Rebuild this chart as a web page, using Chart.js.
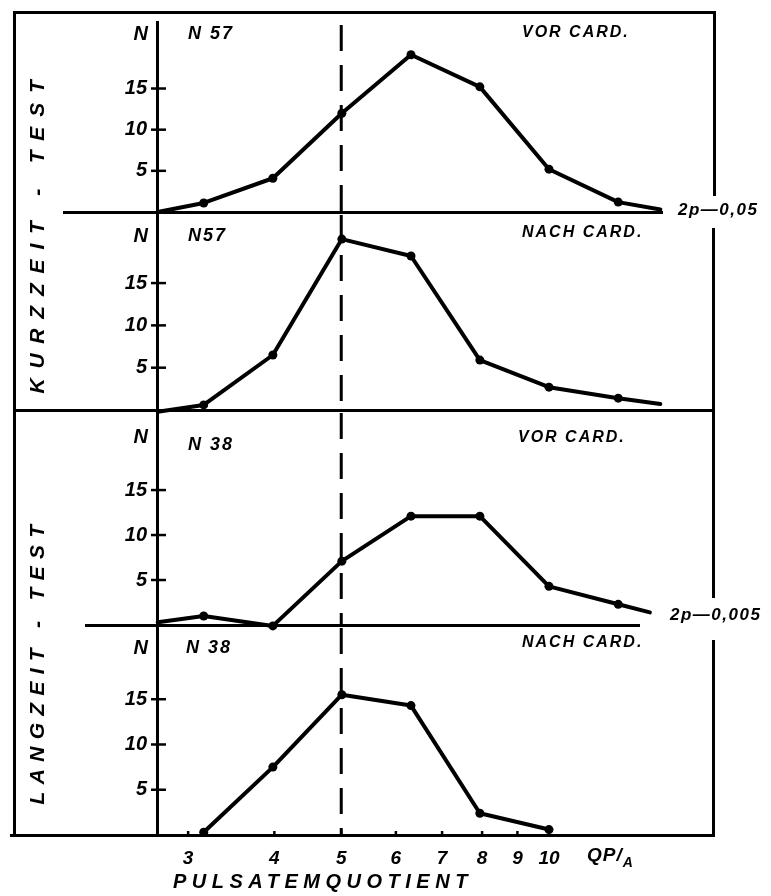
<!DOCTYPE html>
<html>
<head>
<meta charset="utf-8">
<script src="https://cdn.jsdelivr.net/npm/chart.js@4.4.1/dist/chart.umd.min.js"></script>
<style>
html,body{margin:0;padding:0;background:#fff;}
#wrap{position:relative;width:771px;height:896px;overflow:hidden;background:#fff;}
canvas{position:absolute;left:0;top:0;}
.ln{position:absolute;background:#000;}
.t{position:absolute;font-family:'Liberation Sans',Arial,sans-serif;font-weight:bold;font-style:italic;color:#000;white-space:nowrap;line-height:1;transform:translate(0,-50%);}
.r{transform:translate(-100%,-50%);}
.rot{transform:translate(-50%,-50%) rotate(-90deg);}
sub{font-size:14px;vertical-align:-6px;}
</style>
</head>
<body>
<div id="wrap">
  <!-- frame and panel separators -->
  <div class="ln" style="left:13px;top:11px;width:3px;height:826px"></div>
  <div class="ln" style="left:13px;top:11px;width:703px;height:3px"></div>
  <div class="ln" style="left:713px;top:11px;width:3px;height:185px"></div>
  <div class="ln" style="left:712px;top:228px;width:3px;height:183px"></div>
  <div class="ln" style="left:712px;top:410px;width:3px;height:188px"></div>
  <div class="ln" style="left:712px;top:640px;width:3px;height:196px"></div>
  <div class="ln" style="left:63px;top:211px;width:600px;height:3px"></div>
  <div class="ln" style="left:13px;top:409px;width:702px;height:3px"></div>
  <div class="ln" style="left:85px;top:624px;width:555px;height:3px"></div>
  <div class="ln" style="left:10px;top:834px;width:705px;height:3px"></div>

  <canvas id="c1" width="771" height="896"></canvas>
  <canvas id="c2" width="771" height="896"></canvas>
  <canvas id="c3" width="771" height="896"></canvas>
  <canvas id="c4" width="771" height="896"></canvas>

  <!-- texts -->
  <div class="t r" style="left:148px;top:33px;font-size:20px">N</div>
  <div class="t r" style="left:148px;top:235px;font-size:20px">N</div>
  <div class="t r" style="left:148px;top:436px;font-size:20px">N</div>
  <div class="t r" style="left:148px;top:647px;font-size:20px">N</div>

  <div class="t" style="left:188px;top:33px;font-size:18px;letter-spacing:2px">N 57</div>
  <div class="t" style="left:188px;top:235px;font-size:18px;letter-spacing:2px">N57</div>
  <div class="t" style="left:188px;top:444px;font-size:18px;letter-spacing:2px">N 38</div>
  <div class="t" style="left:186px;top:647px;font-size:18px;letter-spacing:2px">N 38</div>

  <div class="t" style="left:522px;top:32px;font-size:16px;letter-spacing:2px">VOR CARD.</div>
  <div class="t" style="left:522px;top:232px;font-size:16px;letter-spacing:2px">NACH CARD.</div>
  <div class="t" style="left:518px;top:437px;font-size:16px;letter-spacing:2px">VOR CARD.</div>
  <div class="t" style="left:522px;top:642px;font-size:16px;letter-spacing:2px">NACH CARD.</div>

  <div class="t" style="left:678px;top:209px;font-size:17px;letter-spacing:1.5px">2p—0,05</div>
  <div class="t" style="left:670px;top:614px;font-size:17px;letter-spacing:1.5px">2p—0,005</div>

  <div class="t" style="left:587px;top:857px;font-size:19px;letter-spacing:1px">QP/<sub>A</sub></div>
  <div class="t" style="left:173px;top:881px;font-size:20px;letter-spacing:5.5px">PULSATEMQUOTIENT</div>

  <div class="t rot" style="left:36px;top:232px;font-size:21px;letter-spacing:9.8px">KURZZEIT - TEST</div>
  <div class="t rot" style="left:36px;top:661px;font-size:21px;letter-spacing:7.3px">LANGZEIT - TEST</div>
</div>

<script>
// ---- data ----
const xTicks = [3, 4, 5, 6, 7, 8, 9, 10];
const yTicks = [5, 10, 15];
const dashX = 5;

// Kurzzeit-Test, vor Cardiakum (N 57)
const kurzVorX = [2.71, 3.16, 3.98, 5.01, 6.31, 7.94, 10.0, 12.6, 14.5];
const kurzVorN = [0, 1.1, 4.1, 12.0, 19.1, 15.2, 5.2, 1.2, 0.3];
// Kurzzeit-Test, nach Cardiakum (N 57)
const kurzNachX = [2.71, 3.16, 3.98, 5.01, 6.31, 7.94, 10.0, 12.6, 14.5];
const kurzNachN = [-0.2, 0.6, 6.5, 20.2, 18.2, 5.9, 2.7, 1.4, 0.7];
// Langzeit-Test, vor Cardiakum (N 38)
const langVorX = [2.71, 3.16, 3.98, 5.01, 6.31, 7.94, 10.0, 12.6, 14.0];
const langVorN = [0.3, 1.0, -0.1, 7.1, 12.1, 12.1, 4.3, 2.3, 1.4];
// Langzeit-Test, nach Cardiakum (N 38)
const langNachX = [3.16, 3.98, 5.01, 6.31, 7.94, 10.0];
const langNachN = [0.3, 7.5, 15.5, 14.3, 2.4, 0.6];

// ---- drawing ----
const FONT = "'Liberation Sans', Arial, sans-serif";
const X_MIN = 2.704, X_MAX = 17.4;
const H = 896;

const marks = {
  id: 'marks',
  beforeDatasetsDraw(chart) {
    const {ctx, chartArea, scales} = chart;
    ctx.save();
    ctx.strokeStyle = '#000';
    // dashed reference line at QP/A = 5
    const xd = scales.x.getPixelForValue(dashX);
    ctx.lineWidth = 3;
    ctx.setLineDash([26, 14]);
    ctx.beginPath();
    ctx.moveTo(xd, chartArea.top + 3);
    ctx.lineTo(xd, chartArea.bottom);
    ctx.stroke();
    ctx.setLineDash([]);
    // y tick marks crossing the axis
    ctx.lineWidth = 2.5;
    scales.y.ticks.forEach(t => {
      const py = scales.y.getPixelForValue(t.value);
      ctx.beginPath();
      ctx.moveTo(chartArea.left - 6, py);
      ctx.lineTo(chartArea.left + 9, py);
      ctx.stroke();
    });
    // x tick marks on the bottom axis
    if (chart.options.scales.x.display) {
      scales.x.ticks.forEach(t => {
        const px = scales.x.getPixelForValue(t.value);
        ctx.beginPath();
        ctx.moveTo(px, chartArea.bottom - 4);
        ctx.lineTo(px, chartArea.bottom);
        ctx.stroke();
      });
    }
    ctx.restore();
  }
};

function panel(id, xs, ys, yMax, top, bottom, showX, plainEnds) {
  const n = xs.length;
  new Chart(document.getElementById(id), {
    type: 'line',
    data: {
      datasets: [{
        data: xs.map((x, i) => ({x: x, y: ys[i]})),
        borderColor: '#000',
        borderWidth: 4,
        borderJoinStyle: 'round',
        borderCapStyle: 'round',
        tension: 0,
        clip: false,
        pointRadius: c => (plainEnds && (c.dataIndex === 0 || c.dataIndex === n - 1)) ? 0 : 4.5,
        pointBackgroundColor: '#000',
        pointBorderWidth: 0
      }]
    },
    options: {
      responsive: false,
      animation: false,
      events: [],
      layout: {padding: {left: 0, right: 56, top: top, bottom: showX ? 0 : H - bottom}},
      plugins: {legend: {display: false}, tooltip: {enabled: false}},
      scales: {
        x: {
          type: 'logarithmic',
          min: X_MIN, max: X_MAX,
          display: showX,
          position: 'bottom',
          afterFit: s => { s.height = showX ? H - bottom : 0; },
          afterBuildTicks: s => { s.ticks = xTicks.map(v => ({value: v})); },
          ticks: {
            autoSkip: false, maxRotation: 0, minRotation: 0, padding: 12,
            color: '#000',
            font: {family: FONT, size: 19, style: 'italic', weight: 'bold'},
            callback: v => String(v)
          },
          grid: {display: false, drawTicks: false},
          border: {display: false}
        },
        y: {
          min: 0, max: yMax,
          afterFit: s => { s.width = 157; },
          afterBuildTicks: s => { s.ticks = yTicks.map(v => ({value: v})); },
          ticks: {
            padding: 10, color: '#000',
            font: {family: FONT, size: 20, style: 'italic', weight: 'bold'}
          },
          grid: {display: false, drawTicks: false},
          border: {display: true, color: '#000', width: 3}
        }
      }
    },
    plugins: [marks]
  });
}

panel('c1', kurzVorX, kurzVorN, 23.08, 12, 212, false, true);
panel('c2', kurzNachX, kurzNachN, 23.4, 212, 410, false, true);
panel('c3', langVorX, langVorN, 23.9, 410, 625, false, true);
panel('c4', langNachX, langNachN, 23.2, 625, 835, true, false);
</script>
</body>
</html>
